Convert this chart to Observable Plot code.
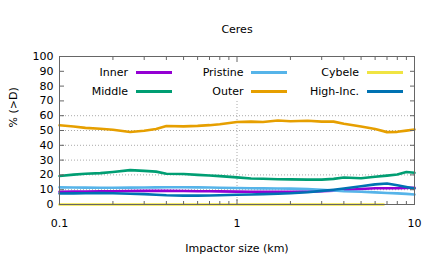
<!DOCTYPE html>
<html><head><meta charset="utf-8">
<script src="https://cdn.jsdelivr.net/npm/d3@7"></script>
<script src="https://cdn.jsdelivr.net/npm/@observablehq/plot@0.6"></script>
<style>
body{margin:0;background:#fff;font-family:"DejaVu Sans",sans-serif;}
#wrap{position:relative;width:436px;height:262px;}
.lg{position:absolute;display:flex;align-items:center;height:18.5px;font-size:11px;color:#000;}
.lg span{display:inline-block;width:70px;text-align:right;white-space:nowrap;}
.lg i{display:inline-block;width:36px;height:3px;margin-left:7.7px;}
</style></head><body><div id="wrap"></div>
<script>
const sizes = [0.1,0.12,0.14,0.17,0.2,0.25,0.3,0.35,0.4,0.5,0.6,0.7,0.8,1,1.2,1.4,1.7,2,2.5,3,3.5,4,5,6,7,8,9,10];
const inner    = [8.6,8.7,8.8,8.9,9.0,9.1,9.2,9.2,9.2,9.1,9.0,9.0,8.9,8.7,8.6,8.5,8.5,8.5,8.7,9.0,9.4,9.8,10.5,11.0,11.0,11.0,11.2,11.3];
const middle   = [19.3,20.2,20.8,21.2,22.0,23.2,22.7,22.2,20.8,20.6,20.0,19.6,19.2,18.3,17.6,17.4,17.1,17.0,16.8,16.8,17.3,18.2,17.7,18.7,19.5,20.3,22.0,21.4];
const pristine = [11.6,11.5,11.4,11.3,11.3,11.4,11.5,11.6,11.7,11.7,11.6,11.5,11.3,11.1,11.0,10.9,10.8,10.7,10.4,10.0,9.5,9.0,8.6,8.2,7.8,7.5,7.2,6.8];
const outer    = [53.5,52.7,51.8,51.2,50.5,49.0,49.8,51.0,53.0,52.8,53.1,53.6,54.2,55.7,56.0,55.7,56.8,56.2,56.6,56.0,56.0,54.5,52.7,51.0,48.9,49.1,49.9,50.7];
const cybeleSizes = [0.1,6.7];
const cybele   = [0,0];
const highInc  = [7.4,7.5,7.6,7.7,7.6,7.3,7.0,6.6,6.2,6.0,6.0,6.1,6.3,6.6,6.8,7.0,7.3,7.6,8.3,9.2,10.0,10.8,12.3,13.6,14.2,13.0,11.8,10.8];

const seriesNames  = ["Inner","Middle","Pristine","Outer","Cybele","High-Inc."];
const seriesColors = ["#9400d3","#009e73","#56b4e9","#e69f00","#f0e442","#0072b2"];
const seriesData   = [[sizes,inner],[sizes,middle],[sizes,pristine],[sizes,outer],[cybeleSizes,cybele],[sizes,highInc]];
const yTicks = d3.range(0,101,10);
const yGrid = [10,20,30,40,50,60];
const xTicks = [0.1,1,10];
const xTickLabels = ["0.1","1","10"];
const xMinor = [0.2,0.3,0.4,0.5,0.6,0.7,0.8,0.9,2,3,4,5,6,7,8,9];

const rows = [];
seriesData.forEach(([xs,ys],k)=>xs.forEach((x,i)=>rows.push({series:seriesNames[k],x,y:ys[i]})));

const lineMarks = seriesNames.map((name,k)=>Plot.line(rows.filter(d=>d.series===name),{x:"x",y:"y",stroke:seriesColors[k],strokeWidth:2.6}));

const plot = Plot.plot({
  width:436,height:262,marginTop:56,marginRight:22,marginBottom:58,marginLeft:59,
  style:{fontFamily:"DejaVu Sans",fontSize:"11px",color:"#000",background:"#fff",overflow:"visible"},
  x:{type:"log",domain:[0.1,10]},
  y:{domain:[0,100]},
  marks:[
    Plot.gridY(yGrid,{stroke:"#aaa",strokeOpacity:1,strokeDasharray:"1,2"}),
    Plot.gridX([1],{y1:0,y2:70,stroke:"#aaa",strokeOpacity:1,strokeDasharray:"1,2"}),
    ...lineMarks,
    Plot.axisY({ticks:yTicks,anchor:"left",tickSize:-5,tickPadding:11,label:null,stroke:"#666"}),
    Plot.axisY({ticks:yTicks,anchor:"right",tickSize:-5,tickFormat:()=>"",label:null,stroke:"#666"}),
    Plot.axisX({ticks:xTicks,anchor:"bottom",tickSize:-5,tickPadding:20,tickFormat:(d,i)=>xTickLabels[xTicks.indexOf(d)],label:null,stroke:"#666"}),
    Plot.axisX({ticks:xTicks,anchor:"top",tickSize:-5,tickFormat:()=>"",label:null,stroke:"#666"}),
    Plot.axisX({ticks:xMinor,anchor:"bottom",tickSize:-3,tickFormat:()=>"",label:null,stroke:"#666"}),
    Plot.axisX({ticks:xMinor,anchor:"top",tickSize:-3,tickFormat:()=>"",label:null,stroke:"#666"}),
    Plot.frame({stroke:"#666"}),
    Plot.text(["Ceres"],{frameAnchor:"top",dy:-31,fontSize:11}),
    Plot.text(["Impactor size (km)"],{frameAnchor:"bottom",dy:47,fontSize:11}),
    Plot.text(["% (>D)"],{frameAnchor:"left",rotate:-90,dx:-46,dy:-3,fontSize:11})
  ]
});
const wrap = document.getElementById("wrap");
wrap.appendChild(plot);
seriesNames.forEach((name,k)=>{
  const col = Math.floor(k/2), row = k%2;
  const el = document.createElement("div");
  el.className="lg";
  el.style.left = (58 + col*115.5)+"px";
  el.style.top = (63.25 + row*18.5)+"px";
  el.innerHTML = `<span>${name}</span><i style="background:${seriesColors[k]}"></i>`;
  wrap.appendChild(el);
});
</script></body></html>
